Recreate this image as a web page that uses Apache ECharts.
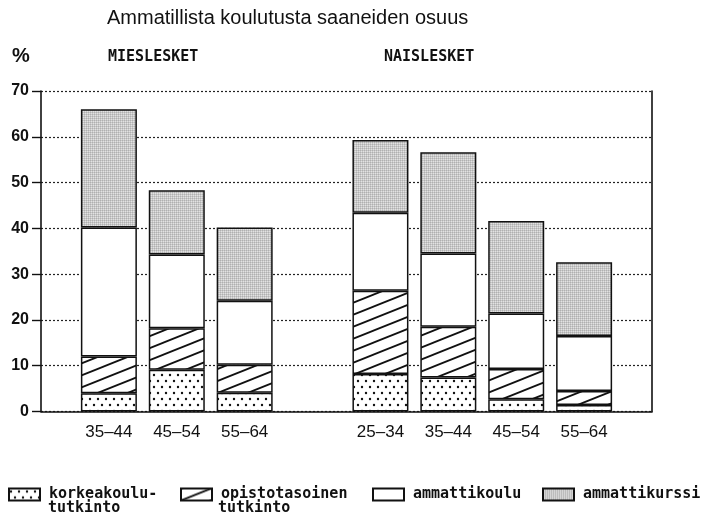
<!DOCTYPE html>
<html>
<head>
<meta charset="utf-8">
<script src="https://cdn.jsdelivr.net/npm/echarts@6/dist/echarts.min.js"></script>
<style>
  html, body { margin: 0; padding: 0; background: #fff; }
  #chart { width: 707px; height: 521px; }
</style>
</head>
<body>
<div id="chart"></div>
<script>
// ikäryhmät, tyhjä paikka ryhmien välissä ja reunoilla
const slots = ['', '35–44', '45–54', '55–64', '', '25–34', '35–44', '45–54', '55–64', '']
const barSlots = [1, 2, 3, 5, 6, 7, 8]

// osuudet (%), järjestys: miehet 35-44, 45-54, 55-64, naiset 25-34, 35-44, 45-54, 55-64
const korkeakoulu = [4.0, 9.1, 4.1, 8.2, 7.4, 2.7, 1.4]
const opisto = [8.0, 9.1, 6.1, 18.2, 11.1, 6.6, 3.1]
const ammattikoulu = [28.2, 16.1, 14.0, 17.0, 16.0, 12.1, 12.0]
const ammattikurssi = [25.8, 14.0, 16.0, 15.9, 22.1, 20.2, 16.1]

const yTicks = [0, 10, 20, 30, 40, 50, 60, 70]

const sans = '"Liberation Sans Narrow", "Liberation Sans", sans-serif'
const mono = '"DejaVu Sans Mono", "Liberation Mono", monospace'

// täyttökuviot
const makeTile = (w, h, draw) => {
  const c = document.createElement('canvas')
  c.width = w
  c.height = h
  const ctx = c.getContext('2d')
  ctx.fillStyle = '#fff'
  ctx.fillRect(0, 0, w, h)
  draw(ctx, w, h)
  return { image: c, repeat: 'repeat' }
}

const dotFill = makeTile(8, 12, (ctx) => {
  ctx.fillStyle = '#111'
  ;[[2, 3], [6, 9]].forEach(([x, y]) => {
    ctx.beginPath()
    ctx.arc(x, y, 1.2, 0, Math.PI * 2)
    ctx.fill()
  })
})

const hatchFill = makeTile(30, 12, (ctx, w, h) => {
  ctx.strokeStyle = '#111'
  ctx.lineWidth = 1.9
  for (let k = -1; k <= 1; k++) {
    ctx.beginPath()
    ctx.moveTo(-w, h * 2 + k * h)
    ctx.lineTo(w * 2, -h + k * h)
    ctx.stroke()
  }
})

const grayFill = makeTile(2, 2, (ctx) => {
  ctx.fillStyle = '#e2e2e2'
  ctx.fillRect(0, 0, 2, 2)
  ctx.fillStyle = '#b0b0b0'
  ctx.fillRect(0, 0, 1, 1)
  ctx.fillStyle = '#c8c8c8'
  ctx.fillRect(1, 0, 1, 1)
  ctx.fillRect(0, 1, 1, 1)
})

const toSlots = (vals) => {
  const out = slots.map(() => null)
  barSlots.forEach((s, i) => { out[s] = vals[i] })
  return out
}

const makeSeries = (name, vals, fill) => ({
  name,
  type: 'bar',
  stack: 'all',
  barWidth: 56,
  data: toSlots(vals),
  itemStyle: { color: fill, borderColor: '#111', borderWidth: 1.5 },
  emphasis: { disabled: true }
})

const legendNames = {
  'korkeakoulututkinto': 'korkeakoulu-',
  'opistotasoinen tutkinto': 'opistotasoinen',
  'ammattikoulu': 'ammattikoulu',
  'ammattikurssi': 'ammattikurssi'
}

const makeLegend = (name, left) => ({
  data: [name],
  left,
  top: 487,
  padding: 0,
  itemWidth: 31,
  itemHeight: 12,
  icon: 'rect',
  selectedMode: false,
  formatter: (n) => legendNames[n],
  textStyle: { fontFamily: mono, fontSize: 15, fontWeight: 'bold', color: '#111', padding: [0, 0, 0, 4] }
})

const chart = echarts.init(document.getElementById('chart'))

const option = {
  animation: false,
  backgroundColor: '#fff',
  grid: { left: 41, right: 55, top: 91, bottom: 109.5 },
  xAxis: {
    type: 'category',
    data: slots,
    boundaryGap: false,
    axisLine: { lineStyle: { color: '#111', width: 1.6 } },
    axisTick: { show: false },
    axisLabel: { interval: 0, margin: 12, fontFamily: sans, fontSize: 17, color: '#111' }
  },
  yAxis: [
    {
      type: 'value',
      min: 0,
      max: 70,
      interval: 10,
      axisLine: { show: true, lineStyle: { color: '#111', width: 1.6 } },
      axisTick: { show: true, length: 9, lineStyle: { color: '#111', width: 1.4 } },
      axisLabel: {
        margin: 12,
        fontFamily: sans,
        fontSize: 16,
        fontWeight: 'bold',
        color: '#111',
        formatter: (v) => (yTicks.includes(v) ? String(v) : '')
      },
      splitLine: { show: true, lineStyle: { color: '#222', width: 1.2, type: [2, 2] } }
    },
    {
      type: 'value',
      min: 0,
      max: 70,
      interval: 10,
      position: 'right',
      axisLine: { show: true, lineStyle: { color: '#111', width: 1.6 } },
      axisTick: { show: false },
      axisLabel: { show: false },
      splitLine: { show: false }
    }
  ],
  legend: [
    makeLegend('korkeakoulututkinto', 8),
    makeLegend('opistotasoinen tutkinto', 180),
    makeLegend('ammattikoulu', 372),
    makeLegend('ammattikurssi', 542)
  ],
  series: [
    makeSeries('korkeakoulututkinto', korkeakoulu, dotFill),
    makeSeries('opistotasoinen tutkinto', opisto, hatchFill),
    makeSeries('ammattikoulu', ammattikoulu, '#fff'),
    makeSeries('ammattikurssi', ammattikurssi, grayFill)
  ],
  graphic: [
    { type: 'text', left: 107, top: 8, style: { text: 'Ammatillista koulutusta saaneiden osuus', font: '20px ' + sans, fill: '#111' } },
    { type: 'text', left: 12, top: 46, style: { text: '%', font: 'bold 20px ' + sans, fill: '#111' } },
    { type: 'text', left: 108, top: 50, style: { text: 'MIESLESKET', font: 'bold 15px ' + mono, fill: '#111' } },
    { type: 'text', left: 384, top: 50, style: { text: 'NAISLESKET', font: 'bold 15px ' + mono, fill: '#111' } },
    { type: 'text', left: 48, top: 501, style: { text: 'tutkinto', font: 'bold 15px ' + mono, fill: '#111' } },
    { type: 'text', left: 218, top: 501, style: { text: 'tutkinto', font: 'bold 15px ' + mono, fill: '#111' } }
  ]
}

option && chart.setOption(option)
</script>
</body>
</html>
